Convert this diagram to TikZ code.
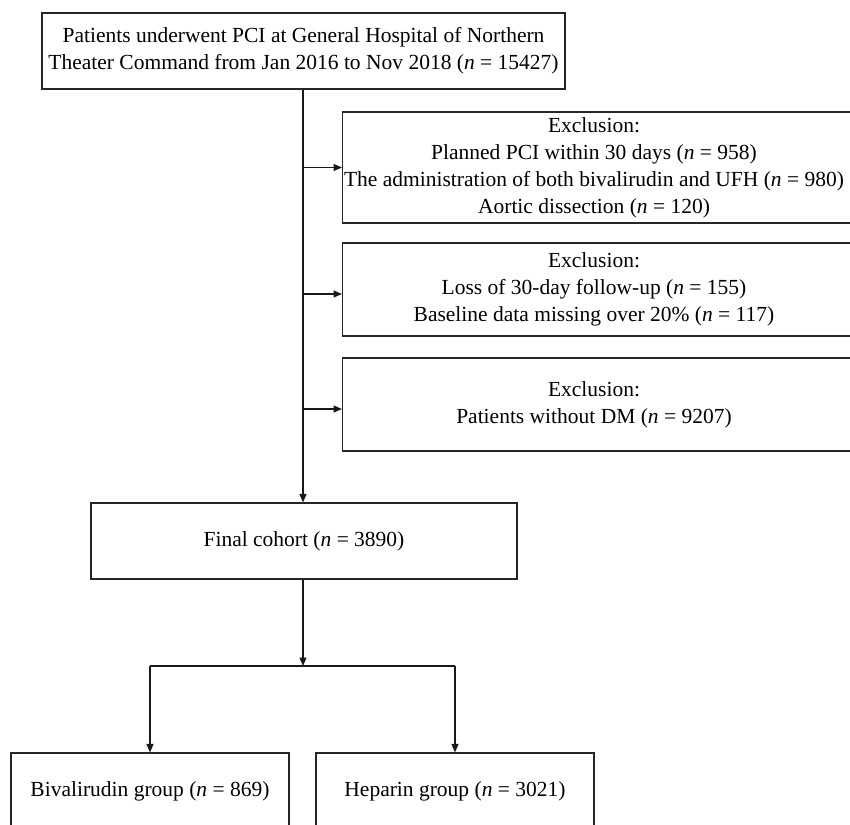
\documentclass[tikz,border=0pt]{standalone}
\usepackage{fontspec}
\setmainfont{Liberation Serif}
\usetikzlibrary{arrows.meta}
\begin{document}
\begin{tikzpicture}[x=1pt,y=-1pt,
  every node/.style={font=\fontsize{21.5}{27}\selectfont, text=black},
  box/.style={draw=black!85, line width=1.2pt, rectangle, inner sep=0pt},
  txt/.style={align=center, inner sep=0pt},
  conn/.style={draw=black!90, line width=1.2pt},
  arr/.style={conn, -{Triangle[length=8.5pt,width=7pt]}}]
\useasboundingbox (0,0) rectangle (850,824);
\clip (0,0) rectangle (850,824);
\fill[white] (0,0) rectangle (850,824);
% top box
\node[box, txt, minimum width=523, minimum height=76] (top) at (303.5,51)
  {Patients underwent PCI at General Hospital of Northern\\Theater Command from Jan 2016 to Nov 2018 (\textit{n} = 15427)};
% exclusion boxes
\node[box, anchor=west, minimum width=530, minimum height=111] (ex1) at (342,167.5) {};
\node[txt] (ex1t) at (594,167.5) {Exclusion:\\Planned PCI within 30 days (\textit{n} = 958)\\The administration of both bivalirudin and UFH (\textit{n} = 980)\\Aortic dissection (\textit{n} = 120)};
\node[box, anchor=west, minimum width=530, minimum height=93] (ex2) at (342,289.5) {};
\node[txt] (ex2t) at (594,289.5) {Exclusion:\\Loss of 30-day follow-up (\textit{n} = 155)\\Baseline data missing over 20\% (\textit{n} = 117)};
\node[box, anchor=west, minimum width=530, minimum height=93] (ex3) at (342,404.5) {};
\node[txt] (ex3t) at (594,404.5) {Exclusion:\\Patients without DM (\textit{n} = 9207)};
% final cohort
\node[box, minimum width=426, minimum height=76] (final) at (304,541) {Final cohort (\textit{n} = 3890)};
% groups
\node[box, minimum width=278, minimum height=76] (biv) at (150,791) {Bivalirudin group (\textit{n} = 869)};
\node[box, minimum width=278, minimum height=76] (hep) at (455,791) {Heparin group (\textit{n} = 3021)};
% connectors
\coordinate (j1) at (303,167.5);
\coordinate (j2) at (303,294);
\coordinate (j3) at (303,409);
\draw[arr] (top.south -| 303,0) -- (final.north -| 303,0);
\draw[arr] (j1) -- (j1 -| ex1.west);
\draw[arr] (j2) -- (j2 -| ex2.west);
\draw[arr] (j3) -- (j3 -| ex3.west);
\coordinate (split) at (303,666);
\draw[arr] (final.south -| split) -- (split);
\draw[conn] (split -| biv.north) -- (split -| hep.north);
\draw[arr] (split -| biv.north) -- (biv.north);
\draw[arr] (split -| hep.north) -- (hep.north);
\end{tikzpicture}
\end{document}
